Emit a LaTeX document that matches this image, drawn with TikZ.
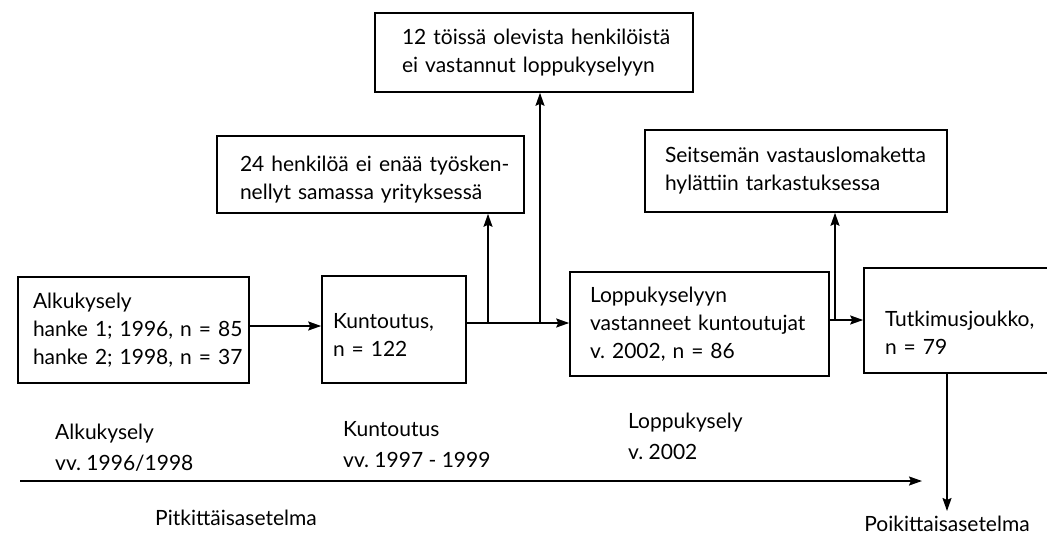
\documentclass[tikz,border=0pt]{standalone}
\usepackage{fontspec}
\setmainfont{Lato}
\usetikzlibrary{arrows.meta}
\frenchspacing
\begin{document}
\begin{tikzpicture}[x=1pt,y=-1pt,
  box/.style={draw, line width=1.6pt, align=left, font=\fontsize{21}{28}\selectfont, inner ysep=0pt},
  lbl/.style={align=left, font=\fontsize{21}{31}\selectfont, inner sep=0pt, anchor=north west},
  arr/.style={line width=1.6pt, -{Stealth[length=13pt,width=9pt,inset=2pt]}}]
\useasboundingbox (0,0) rectangle (1047,538);
\clip (0,0) rectangle (1047,538);
% boxes
\node[box, minimum width=231pt, minimum height=106pt, text width=201pt, inner xsep=15pt] (A) at (133.5,330)
  {\mbox{Alkukysely}\\\mbox{hanke 1; 1996, n = 85}\\\mbox{hanke 2; 1998, n = 37}};
\node[box, minimum width=144pt, minimum height=107pt, text width=122pt, inner xsep=11pt] (B) at (394,329.5)
  {\mbox{\rule{0pt}{25pt}Kuntoutus,}\\\mbox{n = 122}};
\node[box, minimum width=259pt, minimum height=104pt, text width=219pt, inner xsep=20pt] (C) at (699.5,324)
  {\mbox{Loppukyselyyn}\\\mbox{vastanneet kuntoutujat}\\\mbox{v. 2002, n = 86}};
\node[box, minimum width=188pt, minimum height=105pt, text width=146pt, inner xsep=21pt] (D) at (958,320.5)
  {\mbox{\rule{0pt}{39pt}Tutkimusjoukko,}\\\mbox{n = 79}};
\node[box, minimum width=307pt, minimum height=77pt, text width=261pt, inner xsep=23pt] (E) at (370.5,174.5)
  {\mbox{\rule{0pt}{25pt}24 henkilöä ei enää työsken-}\\\mbox{nellyt samassa yrityksessä}};
\node[box, minimum width=318pt, minimum height=79pt, text width=264pt, inner xsep=27pt] (F) at (534,52.5)
  {\mbox{12 töissä olevista henkilöistä}\\\mbox{ei vastannut loppukyselyyn}};
\node[box, minimum width=302pt, minimum height=82pt, text width=262pt, inner xsep=20pt] (G) at (796,171)
  {\mbox{Seitsemän vastauslomaketta}\\\mbox{hylättiin tarkastuksessa}};
% labels
\node[lbl] (l1) at (55,424) {Alkukysely\\vv. 1996/1998};
\node[lbl] (l2) at (343,421) {Kuntoutus\\vv. 1997 - 1999};
\node[lbl] (l3) at (628,413) {Loppukysely\\v. 2002};
\node[lbl] (pit) at (155,510) {Pitkittäisasetelma};
\node[lbl, anchor=north] (poik) at (947,516) {Poikittaisasetelma};
% junctions
\coordinate (j1) at (488,323);
\coordinate (j2) at (540,323);
\coordinate (j3) at (835,320);
\coordinate (px) at (947,0);
\coordinate (t0) at (20,481);
\coordinate (t1) at (922,481);
% connectors
\draw[arr] (A.east |- 0,326) -- (B.west |- 0,326);
\draw[arr] (B.east |- j1) -- (C.west |- j1);
\draw[arr] (j1) -- (j1 |- E.south);
\draw[arr] (j2) -- (j2 |- F.south);
\draw[arr] (C.east |- j3) -- (D.west |- j3);
\draw[arr] (j3) -- (j3 |- G.south);
\draw[arr, shorten >=5pt] (px |- D.south) -- (px |- poik.north);
\draw[arr] (t0) -- (t1);
\end{tikzpicture}
\end{document}
